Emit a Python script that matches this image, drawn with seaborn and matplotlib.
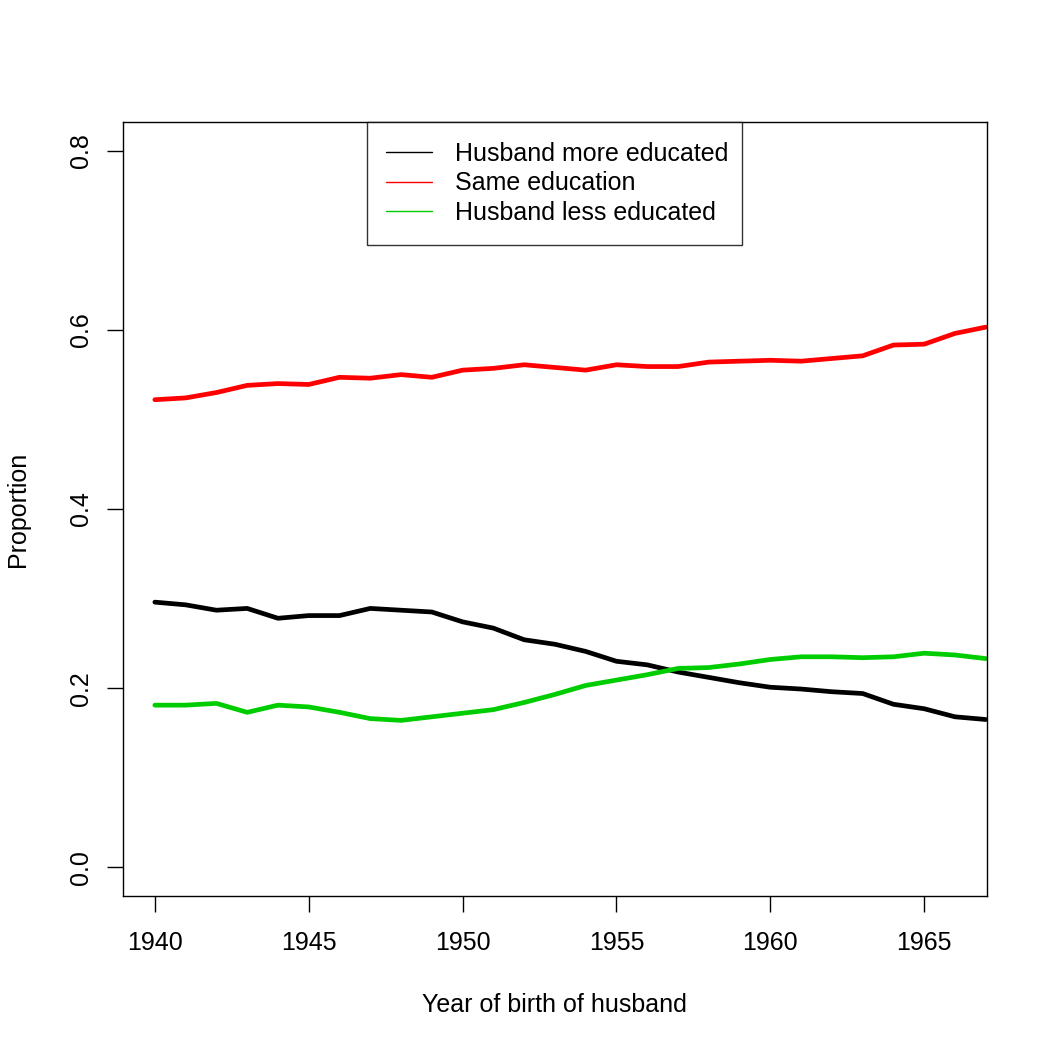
import numpy as np
import pandas as pd
import matplotlib
matplotlib.use("Agg")
import matplotlib.pyplot as plt
import seaborn as sns

sns.set_style("white")
plt.rcParams["font.family"] = ["Liberation Sans", "DejaVu Sans"]
plt.rcParams["text.color"] = "black"
plt.rcParams["axes.labelcolor"] = "black"

years = list(range(1940, 1968))
more_educated = [0.296, 0.293, 0.287, 0.289, 0.278, 0.281, 0.281, 0.289, 0.287, 0.285,
                 0.274, 0.267, 0.254, 0.249, 0.241, 0.230, 0.226, 0.218, 0.212, 0.206,
                 0.201, 0.199, 0.196, 0.194, 0.182, 0.177, 0.168, 0.165]
same_education = [0.522, 0.524, 0.530, 0.538, 0.540, 0.539, 0.547, 0.546, 0.550, 0.547,
                  0.555, 0.557, 0.561, 0.558, 0.555, 0.561, 0.559, 0.559, 0.564, 0.565,
                  0.566, 0.565, 0.568, 0.571, 0.583, 0.584, 0.596, 0.603]
less_educated = [0.181, 0.181, 0.183, 0.173, 0.181, 0.179, 0.173, 0.166, 0.164, 0.168,
                 0.172, 0.176, 0.184, 0.193, 0.203, 0.209, 0.215, 0.222, 0.223, 0.227,
                 0.232, 0.235, 0.235, 0.234, 0.235, 0.239, 0.237, 0.233]
labels = ["Husband more educated", "Same education", "Husband less educated"]
colors = ["#000000", "#FF0000", "#00CD00"]

df = pd.DataFrame({"year": years * 3,
                   "prop": more_educated + same_education + less_educated,
                   "group": [labels[0]] * len(years) + [labels[1]] * len(years) + [labels[2]] * len(years)})

fig = plt.figure(figsize=(10.5, 10.5), dpi=100)
ax = fig.add_axes([0.117, 0.1467, 0.823, 0.7371])

sns.lineplot(data=df, x="year", y="prop", hue="group", hue_order=labels,
             palette=colors, linewidth=3.4, ax=ax, legend=False)

ax.set_xlim(1938.96, 1967.04)
ax.set_ylim(-0.032, 0.832)
ax.set_xticks([1940, 1945, 1950, 1955, 1960, 1965])
ax.set_yticks([0.0, 0.2, 0.4, 0.6, 0.8])
ax.set_yticklabels(["0.0", "0.2", "0.4", "0.6", "0.8"], rotation=90, va="center")
ax.tick_params(axis="both", direction="out", length=11.5, width=1, labelsize=18,
               colors="black", pad=14, left=True, bottom=True)
ax.tick_params(axis="y", pad=10)
for s in ax.spines.values():
    s.set_visible(True)
    s.set_color("black")
    s.set_linewidth(1)

ax.set_xlabel("Year of birth of husband", fontsize=18)
ax.set_ylabel("Proportion", fontsize=18)
ax.xaxis.set_label_coords(0.5, -0.125)
ax.yaxis.set_label_coords(-0.108, 0.5)

handles = [plt.Line2D([], [], color=c, linewidth=1) for c in colors]
leg = ax.legend(handles, labels, loc="upper left", bbox_to_anchor=(0.2824, 0.845, 0.434, 0.155),
                mode="expand", frameon=True, fancybox=False, edgecolor="black", fontsize=18,
                borderaxespad=0, handlelength=1.84, handletextpad=0.92,
                labelspacing=0.23, borderpad=0.78)
leg.get_frame().set_linewidth(1)

fig.savefig("out.png", dpi=100, facecolor="white")
